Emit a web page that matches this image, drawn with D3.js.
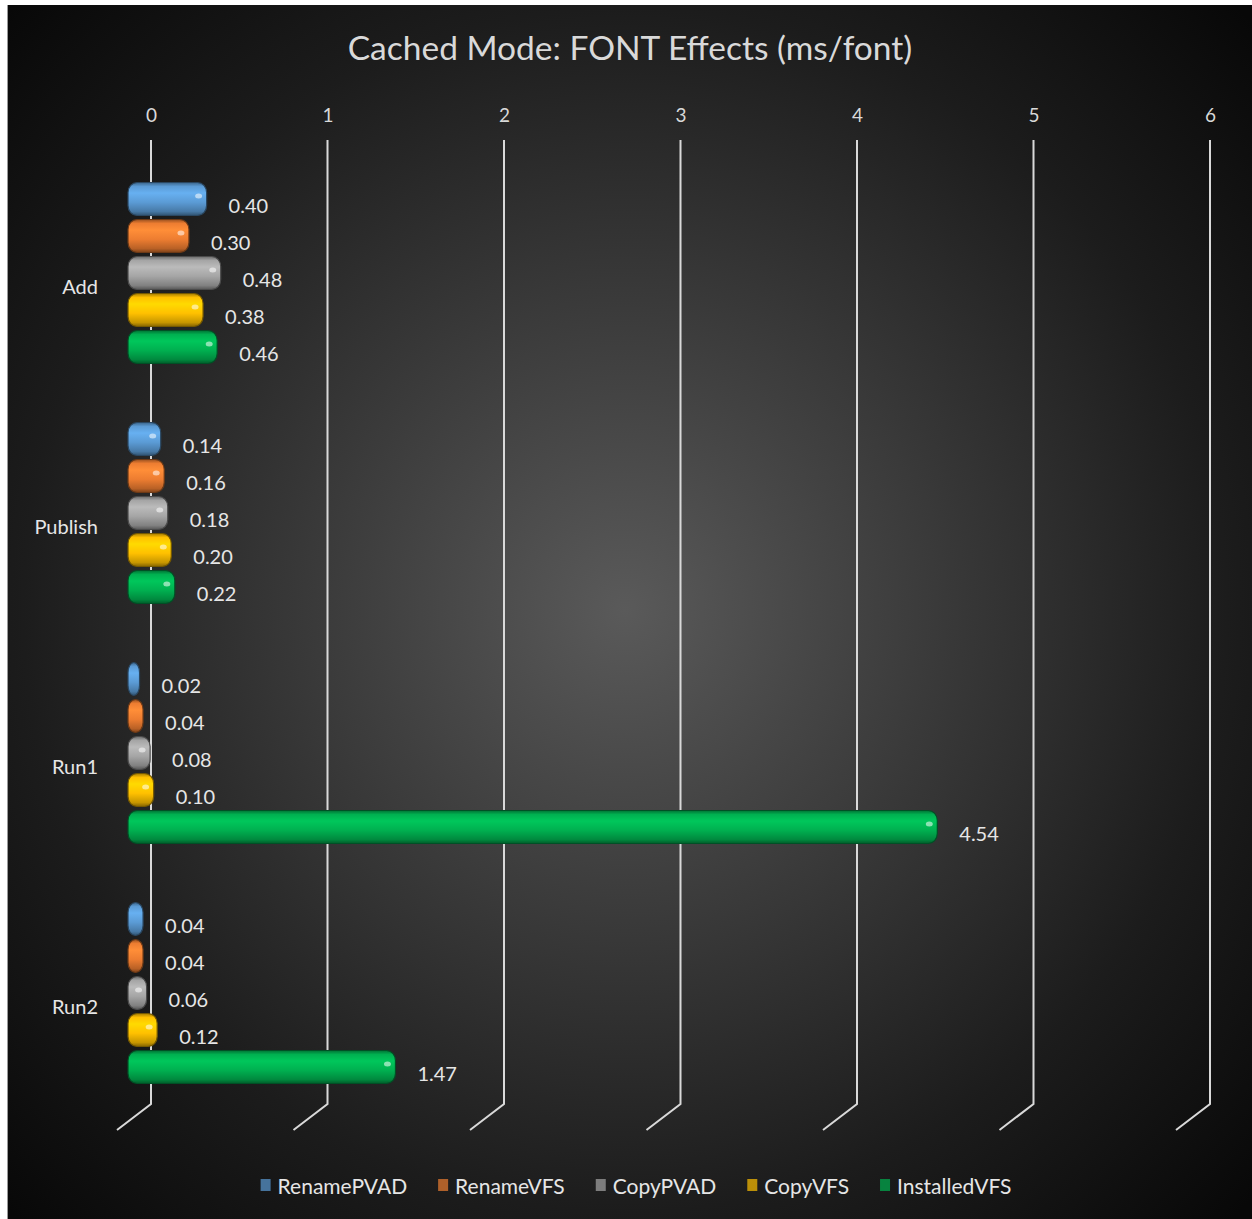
<!DOCTYPE html>
<html>
<head>
<meta charset="utf-8">
<script src="https://cdn.jsdelivr.net/npm/d3@7"></script>
<style>
  html, body { margin: 0; padding: 0; background: #ffffff; }
  svg { display: block; }
</style>
</head>
<body>
<svg id="chart" width="1252" height="1219"></svg>
<script>
// ---- data ----
const title = "Cached Mode: FONT Effects (ms/font)";
const categories = ["Add", "Publish", "Run1", "Run2"];
const seriesNames = ["RenamePVAD", "RenameVFS", "CopyPVAD", "CopyVFS", "InstalledVFS"];
const seriesColors = ["#5b9bd5", "#ed7d31", "#a5a5a5", "#ffc000", "#00b050"];
const renamePVAD = [0.40, 0.14, 0.02, 0.04];
const renameVFS = [0.30, 0.16, 0.04, 0.04];
const copyPVAD = [0.48, 0.18, 0.08, 0.06];
const copyVFS = [0.38, 0.20, 0.10, 0.12];
const installedVFS = [0.46, 0.22, 4.54, 1.47];
const tickValues = [0, 1, 2, 3, 4, 5, 6];

const seriesValues = [renamePVAD, renameVFS, copyPVAD, copyVFS, installedVFS];

// ---- layout ----
const W = 1252, H = 1219;
const FONT = "Lato, 'Open Sans', sans-serif";
const svg = d3.select("#chart");
const defs = svg.append("defs");

// background
const bg = defs.append("radialGradient").attr("id", "bg")
  .attr("gradientUnits", "userSpaceOnUse")
  .attr("cx", 625).attr("cy", 610).attr("r", 860);
bg.append("stop").attr("offset", "0").attr("stop-color", "#5a5a5a");
bg.append("stop").attr("offset", "0.35").attr("stop-color", "#3b3b3b");
bg.append("stop").attr("offset", "0.7").attr("stop-color", "#1c1c1c");
bg.append("stop").attr("offset", "1").attr("stop-color", "#080808");
svg.append("rect").attr("x", 7).attr("y", 5).attr("width", W - 7).attr("height", H - 5)
  .attr("fill", "url(#bg)");
svg.append("line").attr("x1", 7.5).attr("x2", 7.5).attr("y1", 5).attr("y2", H)
  .attr("stroke", "#9a9a9a").attr("stroke-width", 1);

// scales
const x = d3.scaleLinear().domain([0, 6]).range([151, 1210]);
const y = d3.scaleBand().domain(categories).range([153, 1113]).paddingInner(0).paddingOuter(0);
const yInner = d3.scaleBand().domain(seriesNames).range([-90.5, 90.5]).paddingInner(0.108).paddingOuter(0);

const depth = 23;     // 3D offset of bars vs gridlines
const cap = 8;        // rounded end cap length
const gridTop = 140, gridBottom = 1104, slantDX = -34, slantDY = 26;

// title
svg.append("text").attr("x", 630).attr("y", 47)
  .attr("text-anchor", "middle").attr("dominant-baseline", "central")
  .attr("font-family", FONT).attr("font-size", 33.5).attr("fill", "#d9d9d9")
  .text(title);

// gridlines with 3D floor slant
const gridPath = v => {
  const gx = x(v);
  return `M${gx},${gridTop} L${gx},${gridBottom} L${gx + slantDX},${gridBottom + slantDY}`;
};
svg.append("g").selectAll("path").data(tickValues).join("path")
  .attr("d", gridPath).attr("fill", "none")
  .attr("stroke", "#d9d9d9").attr("stroke-width", 2);

// top axis via d3
const axis = d3.axisTop(x).tickValues(tickValues).tickSize(0).tickPadding(0).tickFormat(d3.format("d"));
const axG = svg.append("g").attr("transform", "translate(0,122)").call(axis);
axG.select(".domain").remove();
axG.selectAll("text").attr("font-family", FONT).attr("font-size", 19).attr("fill", "#d9d9d9");

// category labels
svg.append("g").selectAll("text").data(categories).join("text")
  .attr("x", 98).attr("y", d => y(d) + y.bandwidth() / 2 + 13)
  .attr("text-anchor", "end").attr("dominant-baseline", "central")
  .attr("font-family", FONT).attr("font-size", 20).attr("fill", "#e6e6e6")
  .text(d => d);

// cylinder gradients
seriesColors.forEach((c, i) => {
  const g = defs.append("linearGradient").attr("id", "cyl" + i)
    .attr("x1", 0).attr("x2", 0).attr("y1", 0).attr("y2", 1);
  const col = d3.color(c);
  g.append("stop").attr("offset", "0").attr("stop-color", col.darker(1.2));
  g.append("stop").attr("offset", "0.12").attr("stop-color", col);
  g.append("stop").attr("offset", "0.32").attr("stop-color", col.brighter(0.35));
  g.append("stop").attr("offset", "0.6").attr("stop-color", col);
  g.append("stop").attr("offset", "0.88").attr("stop-color", col.darker(0.7));
  g.append("stop").attr("offset", "1").attr("stop-color", col.darker(1.8));
});

// bars
const flat = [];
categories.forEach((cat, ci) => {
  seriesNames.forEach((s, si) => {
    flat.push({cat, s, si, v: seriesValues[si][ci]});
  });
});

const barG = svg.append("g");
const bh = yInner.bandwidth();
const cy = d => y(d.cat) + y.bandwidth() / 2 + yInner(d.s) + bh / 2;
const bx0 = x(0) - depth;
const bx1 = d => x(d.v) - depth + cap;

barG.selectAll("rect.bar").data(flat).join("rect").attr("class", "bar")
  .attr("x", bx0).attr("y", d => cy(d) - bh / 2)
  .attr("width", d => bx1(d) - bx0).attr("height", bh)
  .attr("rx", d => Math.min(9, (bx1(d) - bx0) / 2)).attr("ry", d => Math.min(10, bh / 2))
  .attr("fill", d => `url(#cyl${d.si})`)
  .attr("stroke", d => d3.color(seriesColors[d.si]).darker(2.2))
  .attr("stroke-width", 1.2);

// end highlight
barG.selectAll("ellipse.hl").data(flat.filter(d => bx1(d) - bx0 > 16)).join("ellipse").attr("class", "hl")
  .attr("cx", d => bx1(d) - 8).attr("cy", d => cy(d) - 3)
  .attr("rx", 3.5).attr("ry", 2.5)
  .attr("fill", "#ffffff").attr("opacity", 0.55);

// value labels
svg.append("g").selectAll("text").data(flat).join("text")
  .attr("x", d => x(d.v) + 7).attr("y", d => cy(d) + 6)
  .attr("dominant-baseline", "central")
  .attr("font-family", FONT).attr("font-size", 20).attr("fill", "#e6e6e6")
  .text(d => d3.format(".2f")(d.v));

// legend
const legG = svg.append("g");
const items = legG.selectAll("g").data(seriesNames).join("g");
items.append("rect").attr("x", 0).attr("y", -6).attr("width", 10).attr("height", 12)
  .attr("fill", (d, i) => seriesColors[i]).attr("opacity", 0.7);
items.append("text").attr("x", 17).attr("y", 0).attr("dominant-baseline", "central")
  .attr("font-family", FONT).attr("font-size", 21).attr("fill", "#e6e6e6")
  .text(d => d);
let cx = 0;
const offs = [];
items.each(function () {
  offs.push(cx);
  const tw = d3.select(this).select("text").node().getComputedTextLength();
  cx += 17 + tw + 31;
});
const totalW = cx - 31;
const startX = 636 - totalW / 2;
items.attr("transform", (d, i) => `translate(${startX + offs[i]},1185)`);
</script>
</body>
</html>
